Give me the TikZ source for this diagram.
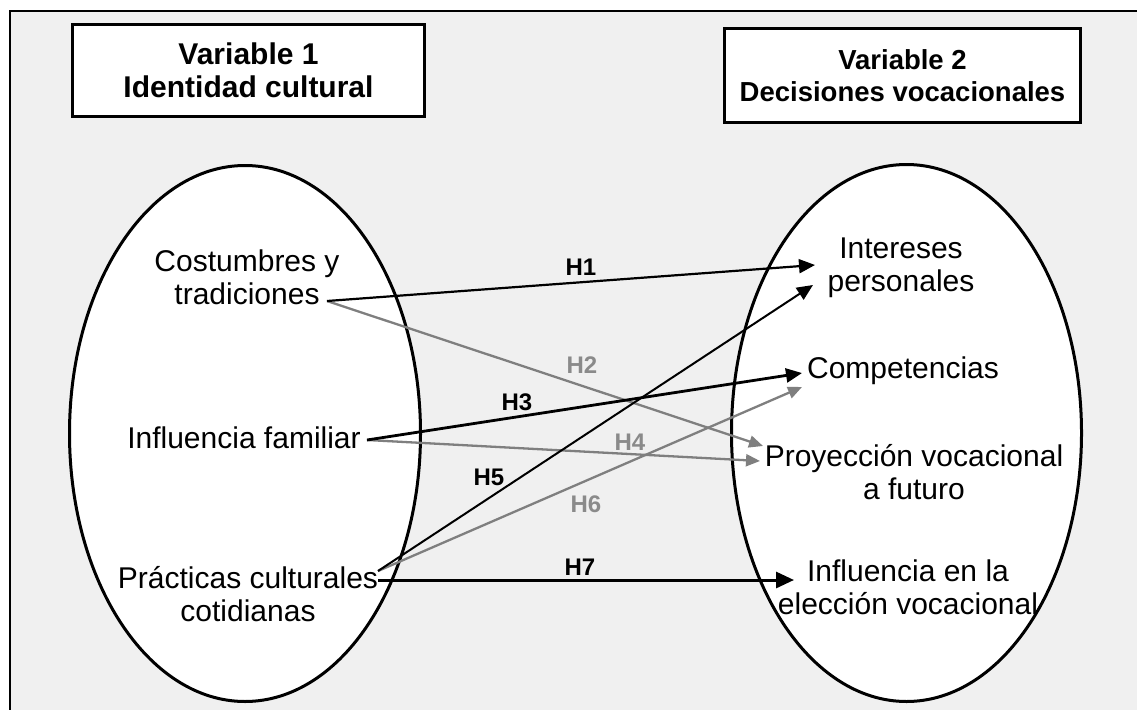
\documentclass[tikz,border=0pt]{standalone}
\usepackage{fontspec}
\setmainfont{Liberation Sans}
\usetikzlibrary{arrows.meta,shapes.geometric}
\definecolor{bggray}{HTML}{F0F0F0}
\definecolor{agray}{HTML}{7F7F7F}
\definecolor{lgray}{HTML}{8A8A8A}
\begin{document}
\begin{tikzpicture}[x=1pt,y=-1pt,
  body/.style={font=\fontsize{30}{33}\selectfont, align=center, inner sep=0pt},
  titlebox/.style={draw, line width=3pt, fill=white, inner sep=0pt, align=center},
  oval/.style={ellipse, draw, line width=3pt, fill=white, inner sep=0pt},
  hlab/.style={font=\bfseries\fontsize{24}{26}\selectfont, inner sep=0pt},
  blk/.style={draw=black, line width=#1, -{Triangle[length=16pt,width=14pt]}},
  gry/.style={draw=agray, line width=2.3pt, -{Triangle[length=14pt,width=12pt]}},
]
\useasboundingbox (0,0) rectangle (1137,709);
\fill[white] (0,0) rectangle (1137,709);
\begin{scope}
  \clip (0,0) rectangle (1137,709);
  \draw[line width=2pt, fill=bggray] (10,11) rectangle (1160,730);
\end{scope}

% title boxes
\node[titlebox, minimum width=352pt, minimum height=92pt,
  font=\bfseries\fontsize{30}{33}\selectfont] (var1) at (248.5,70.5) {Variable 1\\Identidad cultural};
\node[titlebox, minimum width=356pt, minimum height=94pt,
  font=\bfseries\fontsize{27.5}{32}\selectfont] (var2) at (902.5,75.5) {Variable 2\\Decisiones vocacionales};

% ellipses
\node[oval, minimum width=351pt, minimum height=536pt] (left) at (245,433.5) {};
\node[oval, minimum width=350pt, minimum height=537pt] (right) at (906.5,433) {};

% left texts
\node[body] (cost) at (247,277.5) {Costumbres y\\tradiciones};
\node[body, anchor=base] (fam) at (244,448) {Influencia familiar};
\node[body] (prac) at (248,594) {Prácticas culturales\\cotidianas};

% right texts
\node[body] (int) at (901,268) {Intereses\\personales};
\node[body, anchor=base] (comp) at (903,378) {Competencias};
\node[body] (proy) at (914,472) {Proyección vocacional\\a futuro};
\node[body] (infl) at (908,587.5) {Influencia en la\\elección vocacional};

% connector end points
\coordinate (sCost) at (327,301);
\coordinate (sFam) at (367,440);
\coordinate (sPrac) at (378,571);
\coordinate (sPracB) at (378,580);
\coordinate (tInt) at (815,265);
\coordinate (tIntB) at (813,285);
\coordinate (tComp) at (802,373);
\coordinate (tCompB) at (802,387);
\coordinate (tProy) at (763,446);
\coordinate (tProyB) at (760,461);
\coordinate (tInfl) at (794,580);

% gray arrows
\draw[gry] (sCost) -- (tProy);
\draw[gry] (sFam) -- (tProyB);
\draw[gry] (sPrac) -- (tCompB);
% black arrows
\draw[blk=2.2pt] (sCost) -- (tInt);
\draw[blk=2.8pt] (sFam) -- (tComp);
\draw[blk=2pt] (sPrac) -- (tIntB);
\draw[blk=3pt, -{Triangle[length=18pt,width=16pt]}] (sPracB) -- (tInfl);

% labels
\node[hlab] (h1) at (581,267) {H1};
\node[hlab, text=lgray] (h2) at (582,365) {H2};
\node[hlab] (h3) at (517,402) {H3};
\node[hlab, text=lgray] (h4) at (630,442) {H4};
\node[hlab] (h5) at (489,477) {H5};
\node[hlab, text=lgray] (h6) at (586,504) {H6};
\node[hlab] (h7) at (580,567) {H7};
\end{tikzpicture}
\end{document}
